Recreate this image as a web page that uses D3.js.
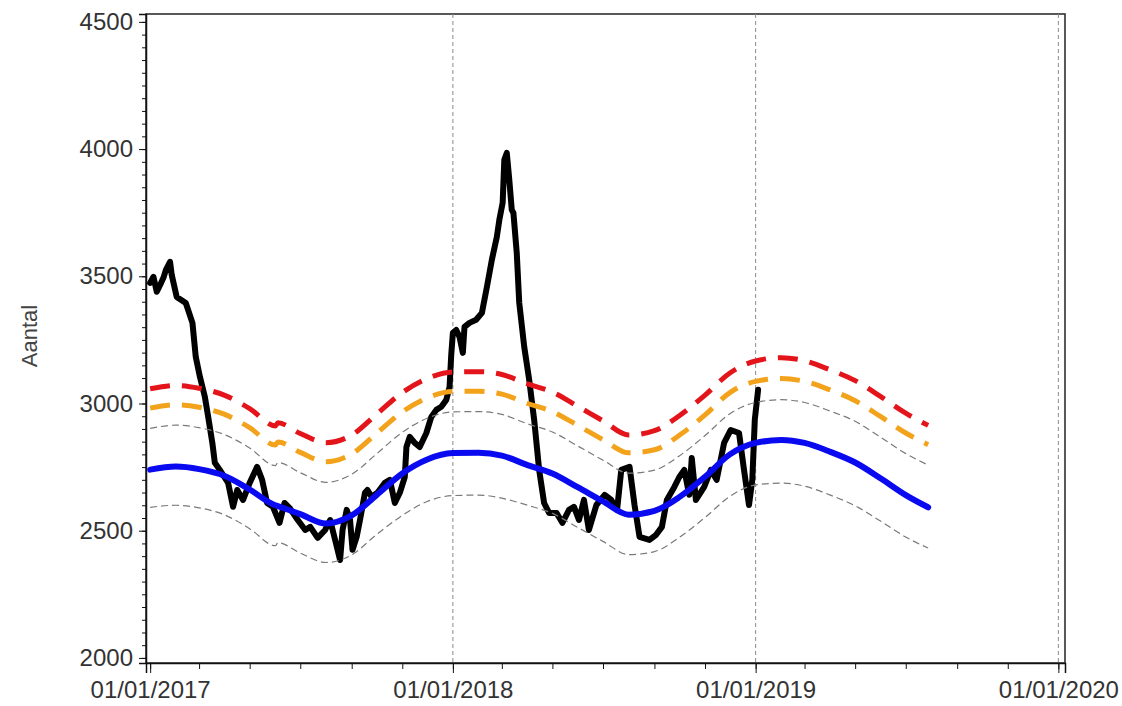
<!DOCTYPE html>
<html>
<head>
<meta charset="utf-8">
<script src="https://cdn.jsdelivr.net/npm/d3@7"></script>
<style>
  body { margin: 0; background: #fff; }
  svg { display: block; }
  .axis text { font-family: "Liberation Sans", Arial, sans-serif; font-size: 24px; fill: #333; }
  .axis path, .axis line { stroke: #111; }
</style>
</head>
<body>
<div id="chart"></div>
<script>
// observed counts (black line)
const actualDates = [
  "2017-01-01","2017-01-05","2017-01-09","2017-01-13","2017-01-17","2017-01-20","2017-01-25","2017-01-27",
  "2017-02-02","2017-02-13","2017-02-21","2017-02-25","2017-03-02","2017-03-08","2017-03-12","2017-03-17",
  "2017-03-20","2017-03-26","2017-04-05","2017-04-11","2017-04-16","2017-04-23","2017-05-01","2017-05-10",
  "2017-05-16","2017-05-22","2017-05-29","2017-06-06","2017-06-12","2017-06-18","2017-06-28","2017-07-07",
  "2017-07-13","2017-07-22","2017-07-31","2017-08-06","2017-08-12","2017-08-18","2017-08-21","2017-08-26",
  "2017-08-30","2017-09-02","2017-09-07","2017-09-11","2017-09-17","2017-09-20","2017-09-25","2017-10-02",
  "2017-10-11","2017-10-17","2017-10-23","2017-10-29","2017-11-04","2017-11-06","2017-11-10","2017-11-16",
  "2017-11-22","2017-11-30","2017-12-06","2017-12-12","2017-12-18","2017-12-24","2017-12-28","2017-12-30",
  "2018-01-01","2018-01-05","2018-01-09","2018-01-13","2018-01-15","2018-01-21","2018-01-29","2018-02-05",
  "2018-02-11","2018-02-17","2018-02-23","2018-02-26","2018-03-02","2018-03-04","2018-03-07","2018-03-10",
  "2018-03-13","2018-03-15","2018-03-19","2018-03-22","2018-03-28","2018-04-03","2018-04-09","2018-04-15",
  "2018-04-21","2018-04-27","2018-05-06","2018-05-13","2018-05-21","2018-05-27","2018-06-02","2018-06-08",
  "2018-06-14","2018-06-23","2018-07-03","2018-07-11","2018-07-18","2018-07-23","2018-08-02","2018-08-08",
  "2018-08-14","2018-08-26","2018-09-03","2018-09-10","2018-09-16","2018-09-25","2018-10-01","2018-10-07",
  "2018-10-13","2018-10-16","2018-10-21","2018-10-31","2018-11-08","2018-11-15","2018-11-24","2018-12-02",
  "2018-12-12","2018-12-18","2018-12-24","2018-12-28","2018-12-31","2019-01-04"
];
const actualValues = [
  3474,3498,3439,3466,3494,3525,3557,3506,
  3419,3395,3317,3183,3105,3026,2947,2845,
  2767,2739,2688,2594,2660,2621,2688,2751,
  2700,2609,2594,2531,2609,2590,2542,2503,
  2515,2472,2503,2542,2464,2385,2503,2582,
  2542,2425,2476,2542,2649,2660,2633,2649,
  2688,2700,2609,2649,2711,2829,2869,2845,
  2829,2884,2947,2975,2987,3014,3065,3191,
  3278,3289,3262,3199,3301,3317,3329,3356,
  3458,3565,3655,3722,3789,3958,3985,3879,
  3761,3749,3592,3396,3223,3093,2936,2739,
  2609,2570,2570,2531,2582,2594,2542,2621,
  2503,2601,2641,2621,2582,2739,2751,2601,
  2476,2464,2484,2515,2621,2672,2711,2739,
  2641,2786,2621,2672,2739,2700,2845,2896,
  2884,2739,2601,2700,2936,3054
];

// expected level and thresholds
const bandDates = [
  "2017-01-01","2017-02-01","2017-03-01","2017-04-01","2017-05-01","2017-06-01","2017-06-04",
  "2017-07-01","2017-08-01","2017-09-01","2017-10-01","2017-11-01","2017-12-01",
  "2018-01-01","2018-02-01","2018-03-01","2018-04-01","2018-05-01","2018-06-01",
  "2018-07-01","2018-08-01","2018-09-01","2018-10-01","2018-11-01","2018-12-01",
  "2019-01-01","2019-02-01","2019-03-01","2019-04-01","2019-05-01","2019-06-01",
  "2019-07-01","2019-07-28"
];
const expected = [2740,2752,2742,2715,2662,2600,2597,2565,2528,2560,2640,2725,2780,
  2805,2806,2795,2758,2725,2670,2615,2563,2578,2632,2712,2800,
  2845,2857,2845,2810,2768,2705,2640,2592];
const upperRed = [3058,3071,3060,3032,2980,2912,2924,2882,2846,2876,2958,3043,3098,
  3124,3125,3114,3077,3045,2988,2932,2876,2893,2952,3033,3120,
  3167,3180,3168,3132,3090,3027,2962,2914];
const upperOrange = [2982,2995,2985,2957,2905,2837,2849,2808,2771,2802,2883,2967,3022,
  3047,3048,3037,3000,2968,2913,2858,2806,2818,2875,2955,3043,
  3087,3098,3087,3053,3011,2948,2884,2838];
const upperGrey = [2902,2915,2905,2877,2825,2756,2768,2728,2690,2722,2802,2887,2942,
  2967,2968,2957,2920,2888,2832,2777,2726,2738,2794,2874,2960,
  3004,3015,3004,2970,2930,2867,2803,2758];
const lowerGrey = [2592,2600,2590,2562,2508,2441,2453,2412,2375,2405,2485,2560,2615,
  2638,2640,2628,2600,2568,2512,2458,2406,2418,2474,2552,2635,
  2680,2687,2675,2640,2598,2537,2475,2432];

const yMajorTicks = [2000, 2500, 3000, 3500, 4000, 4500];

const parse = d3.timeParse("%Y-%m-%d");
const W = 1122, H = 706;
const plot = {left: 146, right: 1065, top: 14, bottom: 663};

let svg = d3.select("#chart")
  .append("svg")
    .attr("width", W)
    .attr("height", H);

svg.append("rect")
  .attr("width", W)
  .attr("height", H)
  .attr("fill", "white");

let xScale = d3.scaleTime()
  .domain([parse("2016-12-27"), parse("2020-01-09")])
  .range([plot.left, plot.right]);

let yScale = d3.scaleLinear()
  .domain([1980, 4531])
  .range([plot.bottom, plot.top]);

// frame
svg.append("rect")
  .attr("x", plot.left)
  .attr("y", plot.top)
  .attr("width", plot.right - plot.left)
  .attr("height", plot.bottom - plot.top)
  .attr("fill", "none")
  .attr("stroke", "#222")
  .attr("stroke-width", 1.5);

// year reference lines
svg.append("g")
  .selectAll("line")
  .data(["2018-01-01", "2019-01-01", "2020-01-01"].map(parse))
  .enter()
  .append("line")
    .attr("x1", d => xScale(d))
    .attr("x2", d => xScale(d))
    .attr("y1", plot.top)
    .attr("y2", plot.bottom)
    .attr("stroke", "#8a8a8a")
    .attr("stroke-width", 1)
    .attr("stroke-dasharray", "4,3");

// y axis: minor every 50, labelled every 500
svg.append("g")
  .attr("class", "axis")
  .attr("transform", "translate(" + plot.left + ",0)")
  .call(d3.axisLeft(yScale).tickValues(d3.range(2000, 4501, 50)).tickSize(4).tickFormat(""))
  .call(g => g.select(".domain").remove());

svg.append("g")
  .attr("class", "axis")
  .attr("transform", "translate(" + plot.left + ",0)")
  .call(d3.axisLeft(yScale).tickValues(yMajorTicks).tickSize(7).tickPadding(6).tickFormat(d3.format("d")))
  .call(g => g.select(".domain").attr("stroke-width", 1.5));

// x axis: minor every two months, labelled each year
svg.append("g")
  .attr("class", "axis")
  .attr("transform", "translate(0," + plot.bottom + ")")
  .call(d3.axisBottom(xScale).ticks(d3.timeMonth.every(2)).tickSize(6).tickFormat(""))
  .call(g => g.select(".domain").remove());

svg.append("g")
  .attr("class", "axis")
  .attr("transform", "translate(0," + plot.bottom + ")")
  .call(d3.axisBottom(xScale).ticks(d3.timeYear.every(1)).tickSize(10).tickPadding(8)
    .tickFormat(d3.timeFormat("%d/%m/%Y")))
  .call(g => g.select(".domain").attr("stroke-width", 1.5));

svg.append("text")
  .attr("transform", "translate(37,336) rotate(-90)")
  .attr("text-anchor", "middle")
  .attr("font-family", "Liberation Sans, Arial, sans-serif")
  .attr("font-size", 22)
  .attr("fill", "#444")
  .text("Aantal");

let line = d3.line()
  .x(d => xScale(d[0]))
  .y(d => yScale(d[1]));

let smooth = d3.line()
  .curve(d3.curveMonotoneX)
  .x(d => xScale(d[0]))
  .y(d => yScale(d[1]));

let actual = actualDates.map((d, i) => [parse(d), actualValues[i]]);
let band = vals => bandDates.map((d, i) => [parse(d), vals[i]]);

svg.append("clipPath").attr("id", "plotclip")
  .append("rect")
    .attr("x", plot.left).attr("y", plot.top)
    .attr("width", plot.right - plot.left).attr("height", plot.bottom - plot.top);

let g = svg.append("g").attr("clip-path", "url(#plotclip)");

g.append("path")
  .datum(actual)
  .attr("d", line)
  .attr("fill", "none")
  .attr("stroke", "#000")
  .attr("stroke-width", 6)
  .attr("stroke-linejoin", "round")
  .attr("stroke-linecap", "round");

[
  {vals: lowerGrey, color: "#7a7a7a", width: 1.2, dash: "7,4"},
  {vals: upperGrey, color: "#7a7a7a", width: 1.2, dash: "7,4"},
  {vals: upperOrange, color: "#f2a31b", width: 5, dash: "20,12"},
  {vals: upperRed, color: "#e3141a", width: 5, dash: "20,12"}
].forEach(s => {
  g.append("path")
    .datum(band(s.vals))
    .attr("d", smooth)
    .attr("fill", "none")
    .attr("stroke", s.color)
    .attr("stroke-width", s.width)
    .attr("stroke-dasharray", s.dash);
});

g.append("path")
  .datum(band(expected))
  .attr("d", smooth)
  .attr("fill", "none")
  .attr("stroke", "#0a0af0")
  .attr("stroke-width", 6)
  .attr("stroke-linecap", "round");
</script>
</body>
</html>
